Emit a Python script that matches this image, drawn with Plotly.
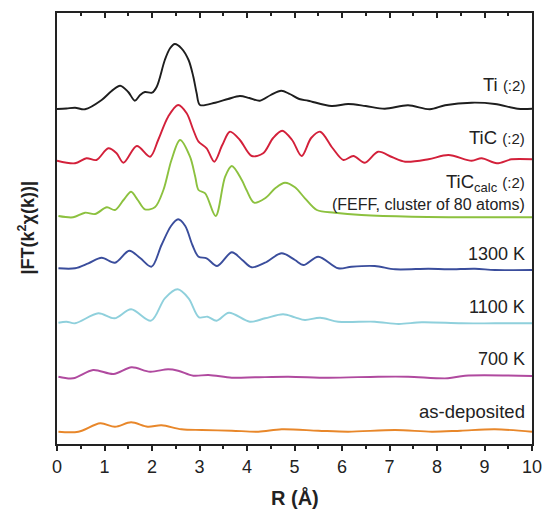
import plotly.graph_objects as go

# ---- data (R in Å, |FT| amplitudes in arbitrary units above each curve's baseline) ----
series_names = ["Ti", "TiC", "TiC_calc", "1300 K", "1100 K", "700 K", "as-deposited"]
offsets = [334, 282.3, 227, 174.7, 120.3, 66.3, 11.3]

ti_r = [0.0, 0.2, 0.38, 0.59, 0.94, 1.15, 1.33, 1.5, 1.64, 1.75, 1.85, 2.0, 2.1, 2.27, 2.38, 2.48,
        2.62, 2.77, 2.87, 2.94, 3.01, 3.33, 3.6, 3.85, 4.05, 4.27, 4.5, 4.72, 4.9, 5.1, 5.29, 5.78,
        6.13, 6.5, 6.9, 7.39, 7.85, 8.17, 8.73, 9.22, 9.7, 10.0]
ti_v = [0, 0.5, 1.3, -0.3, 9, 18, 23.3, 17, 8.3, 14, 17, 16.3, 22.3, 49, 60.7, 65,
        60.7, 49, 32.3, 15.7, 4, 6.3, 10, 13, 11, 8.3, 14, 18.3, 15, 10, 8.3, 3,
        5, 3, 0.3, 3.7, -0.3, 3.7, 6.3, 5, 0.3, 0.3]

tic_r = [0.0, 0.38, 0.62, 0.83, 1.08, 1.25, 1.4, 1.68, 1.96, 2.13, 2.34, 2.55, 2.73, 2.87, 2.98,
         3.15, 3.31, 3.48, 3.64, 3.85, 4.1, 4.34, 4.55, 4.74, 4.95, 5.15, 5.35, 5.54, 5.8, 6.03,
         6.24, 6.48, 6.76, 7.05, 7.33, 7.82, 8.24, 8.73, 8.94, 9.26, 9.57, 10.0]
tic_v = [0, -2.6, 2.4, 0.7, 12.4, 7.7, -2, 14.7, 4, 20.7, 44, 55.7, 47.4, 30.7, 19,
         12.4, -1, 15.7, 29, 20.7, 4.7, 7.4, 22.7, 30, 20.7, 4.7, 22.7, 29, 12.7, 0.7,
         4.7, -2, 9, 3.7, -1, 1.4, 5.7, 0, 2.4, -2.6, 1.4, 1.4]

calc_r = [0.03, 0.34, 0.59, 0.8, 1.05, 1.22, 1.4, 1.56, 1.7, 1.85, 2.06, 2.24, 2.41, 2.59, 2.8,
          2.91, 2.98, 3.12, 3.34, 3.54, 3.68, 3.89, 3.99, 4.15, 4.38, 4.6, 4.8, 5.01, 5.22, 5.47,
          5.85, 6.41, 7.47, 10.0]
calc_v = [0, -1.3, 3.3, 2, 8.7, 6, 16, 24.3, 16, 6.7, 8.7, 26, 56, 76, 59.3,
          39.3, 26, 22.7, 0, 39.3, 50, 36, 26, 13.3, 17.7, 28, 33.3, 28.7, 17.7, 6,
          3.3, 1, -0.7, -1.3]

k1300_r = [0.03, 0.38, 0.66, 0.94, 1.22, 1.52, 1.75, 1.99, 2.2, 2.4, 2.55, 2.7, 2.85, 2.98, 3.15,
           3.37, 3.68, 3.9, 4.1, 4.38, 4.73, 5.01, 5.19, 5.5, 5.92, 6.2, 6.69, 7.12, 7.82, 8.24,
           8.8, 9.22, 10.0]
k1300_v = [0, 0, 5, 10.6, 5.6, 17.6, 10.3, 1.6, 23.3, 42.3, 49, 42.3, 23.3, 11.6, 10,
           2.3, 16, 8.3, 1, 5.6, 15, 8.3, 3.3, 11.6, 0, 1.6, 2.3, -1, -0.4, -1,
           -0.4, -1.7, -1.7]

k1100_r = [0.03, 0.2, 0.38, 0.87, 1.21, 1.56, 1.98, 2.27, 2.54, 2.77, 2.99, 3.17, 3.36, 3.62, 4.06,
           4.38, 4.76, 5.01, 5.22, 5.54, 5.92, 6.69, 7.19, 7.68, 8.52, 9.22, 10.0]
k1100_v = [0, 1, -0.6, 9.4, 4.4, 13.4, 2, 24.4, 33.4, 24.4, 5.4, 6, 2, 10, 1,
           4.4, 8.4, 5.4, 2.7, 5, 1, 1, -1.3, 0.4, -0.6, -0.6, -0.6]

k700_r = [0.03, 0.34, 0.76, 1.19, 1.57, 1.96, 2.34, 2.55, 2.87, 3.19, 3.68, 4.17, 4.87, 5.71, 6.76,
          7.39, 8.23, 8.59, 10.0]
k700_v = [0, -1.6, 6.7, 2.7, 9.4, 5, 7.4, 6, 1, 1.7, -1, -0.6, 0, -1, 0,
          0, -1.6, 1, 0.7]

asdep_r = [0.03, 0.45, 0.91, 1.22, 1.56, 1.91, 2.2, 2.62, 3.05, 3.68, 4.24, 4.73, 5.5, 6.13, 7.12,
           7.89, 8.5, 9.22, 10.0]
asdep_v = [0, 0, 8.4, 5, 9.4, 5, 6.4, 2.4, 1.7, 1, 0, 2.4, 1, 0, 1.7,
           0, 1, 2.4, 0]

colors = ["#1e1e1e", "#d3203a", "#8cc13f", "#3a4d9c", "#8fd0dc", "#b04a9f", "#e8872a"]

curves = [(ti_r, ti_v), (tic_r, tic_v), (calc_r, calc_v), (k1300_r, k1300_v),
          (k1100_r, k1100_v), (k700_r, k700_v), (asdep_r, asdep_v)]

FONT = "Liberation Sans, Arial, Helvetica"

fig = go.Figure()
for name, (r, v), off, col in zip(series_names, curves, offsets, colors):
    fig.add_trace(go.Scatter(
        x=r, y=[val + off for val in v], mode="lines", name=name,
        line=dict(color=col, width=1.9, shape="spline", smoothing=0.9),
        showlegend=False, hoverinfo="skip"))

# invisible trace for the top axis (inward ticks)
fig.add_trace(go.Scatter(x=[0, 10], y=[0, 0], xaxis="x2", mode="markers",
                         marker=dict(opacity=0), showlegend=False, hoverinfo="skip"))

labels = [
    ("Ti <span style='font-size:15px'>(:2)</span>", 359, 18.5),
    ("TiC <span style='font-size:15px'>(:2)</span>", 306, 18.5),
    ("TiC<sub>calc</sub> <span style='font-size:15px'>(:2)</span>", 260, 18.5),
    ("(FEFF, cluster of 80 atoms)", 239, 16),
    ("1300 K", 189, 18),
    ("1100 K", 136, 18),
    ("700 K", 84, 18),
    ("as-deposited", 31.3, 18.5),
]
for text, yv, fs in labels:
    fig.add_annotation(x=1, xref="paper", y=yv, yref="y", text=text, showarrow=False,
                       xanchor="right", yanchor="middle", xshift=-5,
                       font=dict(size=fs, color="#222222", family=FONT))

fig.add_annotation(x=0, xref="paper", y=0.5, yref="paper", xshift=-30,
                   xanchor="center", yanchor="middle",
                   text="<b>|FT(k<sup>2</sup>χ(k))|</b>", textangle=-90, showarrow=False,
                   font=dict(size=18, color="#222222", family=FONT))

fig.add_annotation(x=0.5, xref="paper", y=0, yref="paper", yshift=-53,
                   text="<b>R (Å)</b>", showarrow=False, xanchor="center", yanchor="middle",
                   font=dict(size=20, color="#222222", family=FONT))

fig.update_layout(
    width=544, height=510,
    margin=dict(l=57, r=12, t=13, b=66),
    paper_bgcolor="white", plot_bgcolor="white",
    font=dict(family=FONT, color="#222222"),
    xaxis=dict(range=[0, 10], tickmode="linear", tick0=0, dtick=1, automargin=False,
               ticks="outside", ticklen=5, tickwidth=1.5, tickcolor="#222222",
               minor=dict(ticks="outside", ticklen=3, dtick=0.5, tickwidth=1.5, tickcolor="#222222"),
               showline=True, linecolor="#222222", linewidth=2, mirror=False,
               showgrid=False, zeroline=False,
               tickfont=dict(size=18, color="#222222", family=FONT)),
    xaxis2=dict(range=[0, 10], overlaying="x", side="top", tickmode="linear", tick0=0, dtick=1,
                automargin=False,
                ticks="inside", ticklen=5, tickwidth=1.5, tickcolor="#222222",
                minor=dict(ticks="inside", ticklen=3, dtick=0.5, tickwidth=1.5, tickcolor="#222222"),
                showticklabels=False, showline=True, linecolor="#222222", linewidth=2,
                showgrid=False, zeroline=False),
    yaxis=dict(range=[-1, 430], showticklabels=False, ticks="", showgrid=False, zeroline=False,
               automargin=False,
               showline=True, linecolor="#222222", linewidth=2, mirror=True),
)

fig.write_html("out.html", config={"displayModeBar": False},
               post_script="document.body.style.margin='0';document.body.style.padding='0';")
